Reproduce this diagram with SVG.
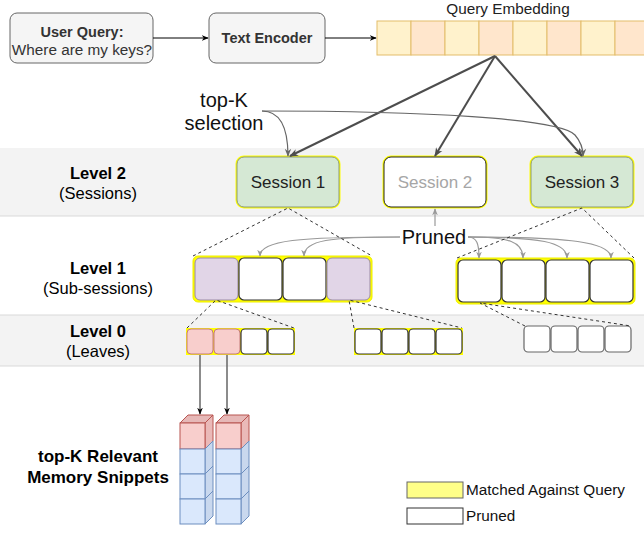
<svg xmlns="http://www.w3.org/2000/svg" width="644" height="534" viewBox="0 0 644 534">
  <defs>
    <marker id="arr" viewBox="0 0 10 10" refX="9" refY="5" markerWidth="7" markerHeight="7" orient="auto" markerUnits="userSpaceOnUse">
      <path d="M0 1 L10 5 L0 9 L3 5 Z" fill="#000"/>
    </marker>
    <marker id="arrDark" viewBox="0 0 10 10" refX="9" refY="5" markerWidth="9" markerHeight="9" orient="auto" markerUnits="userSpaceOnUse">
      <path d="M0 1 L10 5 L0 9 L3 5 Z" fill="#4d4d4d"/>
    </marker>
    <marker id="arrGray" viewBox="0 0 10 10" refX="9" refY="5" markerWidth="7" markerHeight="7" orient="auto" markerUnits="userSpaceOnUse">
      <path d="M0 1 L10 5 L0 9 L3 5 Z" fill="#999"/>
    </marker>
    <marker id="arrMid" viewBox="0 0 10 10" refX="9" refY="5" markerWidth="8" markerHeight="8" orient="auto" markerUnits="userSpaceOnUse">
      <path d="M0 1 L10 5 L0 9 L3 5 Z" fill="#666"/>
    </marker>
  </defs>
  <style>
    text { font-family: "Liberation Sans", Arial, sans-serif; fill: #000; }
    .band { fill: #f3f3f3; }
    .bandline { stroke: #d9d9d9; stroke-width: 1; }
    .lbl { font-size: 16.5px; text-anchor: middle; }
    .big { font-size: 17px; text-anchor: middle; font-weight: bold; }
    .b { font-weight: bold; }
    .grey-box { fill: #f5f5f5; stroke: #666; stroke-width: 1; }
    .emb-y { fill: #fff2cc; stroke: #e3bd6b; stroke-width: 1; }
    .emb-o { fill: #ffe6cc; stroke: #e3bd6b; stroke-width: 1; }
    .halo { fill: none; stroke: #ffff00; stroke-width: 3; }
    .sess { fill: #d5e8d4; stroke: #8a9a7a; stroke-width: 1; }
    .sess-p { fill: #fff; stroke: #222; stroke-width: 1; }
    .sess-t { font-size: 17px; text-anchor: middle; }
    .cont { fill: #ffff00; stroke: #eeee00; stroke-width: 1; }
    .purple { fill: #e1d5e7; stroke: #9a8aa6; stroke-width: 1; }
    .white { fill: #fff; stroke: #333; stroke-width: 1.2; }
    .white-g { fill: #fff; stroke: #666; stroke-width: 1.2; }
    .pink { fill: #f8cecc; stroke: #c57b78; stroke-width: 1; }
    .dash { stroke: #333; stroke-width: 1; stroke-dasharray: 3 3; fill: none; }
    .main { stroke: #4d4d4d; stroke-width: 2; fill: none; }
    .sel { stroke: #666; stroke-width: 1.2; fill: none; }
    .pr { stroke: #999; stroke-width: 1.2; fill: none; }
    .blk { stroke: #000; stroke-width: 1; fill: none; }
    .leafarr { stroke: #666; stroke-width: 1.5; fill: none; }
    .cube-pf { fill: #f8cecc; stroke: #b85450; stroke-width: 1; }
    .cube-pt { fill: #e6b8b7; stroke: #b85450; stroke-width: 1; }
    .cube-ps { fill: #eab9b8; stroke: #b85450; stroke-width: 1; }
    .cube-bf { fill: #dae8fc; stroke: #6c8ebf; stroke-width: 1; }
    .cube-bs { fill: #c9d8ee; stroke: #6c8ebf; stroke-width: 1; }
    .legend-t { font-size: 15.3px; }
  </style>

  <!-- level bands -->
  <rect class="band" x="0" y="148" width="644" height="68"/>
  <line class="bandline" x1="0" y1="216" x2="644" y2="216"/>
  <rect class="band" x="0" y="315" width="644" height="51"/>
  <line class="bandline" x1="0" y1="315" x2="644" y2="315"/>
  <line class="bandline" x1="0" y1="366" x2="644" y2="366"/>

  <!-- level labels -->
  <g id="label-level2">
    <text class="lbl b" x="98" y="179">Level 2</text>
    <text class="lbl" x="98" y="199">(Sessions)</text>
  </g>
  <g id="label-level1">
    <text class="lbl b" x="98" y="274">Level 1</text>
    <text class="lbl" x="98" y="294">(Sub-sessions)</text>
  </g>
  <g id="label-level0">
    <text class="lbl b" x="98" y="337">Level 0</text>
    <text class="lbl" x="98" y="357">(Leaves)</text>
  </g>
  <g id="label-snippets">
    <text class="big" x="98" y="462">top-K Relevant</text>
    <text class="big" x="98" y="483">Memory Snippets</text>
  </g>

  <!-- query pipeline -->
  <g id="user-query">
    <rect class="grey-box" x="10" y="13" width="143" height="50" rx="7"/>
    <text x="82" y="37" text-anchor="middle" font-size="14.5" font-weight="bold" style="fill:#333">User Query:</text>
    <text x="82" y="55" text-anchor="middle" font-size="15.3" style="fill:#333">Where are my keys?</text>
  </g>
  <g id="text-encoder">
    <rect class="grey-box" x="209" y="13" width="116" height="50" rx="7"/>
    <text x="267" y="43" text-anchor="middle" font-size="14.5" font-weight="bold" style="fill:#333">Text Encoder</text>
  </g>
  <g id="query-embedding">
    <text x="508" y="14" text-anchor="middle" font-size="15.3" style="fill:#222">Query Embedding</text>
    <rect class="emb-y" x="377" y="21" width="34" height="34"/>
    <rect class="emb-o" x="411" y="21" width="34" height="34"/>
    <rect class="emb-y" x="445" y="21" width="34" height="34"/>
    <rect class="emb-o" x="479" y="21" width="34" height="34"/>
    <rect class="emb-y" x="513" y="21" width="34" height="34"/>
    <rect class="emb-o" x="547" y="21" width="34" height="34"/>
    <rect class="emb-y" x="581" y="21" width="34" height="34"/>
    <rect class="emb-o" x="615" y="21" width="34" height="34"/>
  </g>
  <g id="top-k-label">
    <text x="224" y="107" text-anchor="middle" font-size="20" style="fill:#111">top-K</text>
    <text x="224" y="130" text-anchor="middle" font-size="20" style="fill:#111">selection</text>
  </g>

  <!-- sessions -->
  <g id="session-1">
    <rect class="halo" x="237" y="157" width="102" height="50" rx="7"/>
    <rect class="sess" x="237" y="157" width="102" height="50" rx="7"/>
    <text class="sess-t" x="288" y="188" style="fill:#222">Session 1</text>
  </g>
  <g id="session-2">
    <rect class="halo" x="384" y="157" width="102" height="50" rx="7"/>
    <rect class="sess-p" x="384" y="157" width="102" height="50" rx="7"/>
    <text class="sess-t" x="435" y="188" style="fill:#a6a6a6">Session 2</text>
  </g>
  <g id="session-3">
    <rect class="halo" x="531" y="157" width="102" height="50" rx="7"/>
    <rect class="sess" x="531" y="157" width="102" height="50" rx="7"/>
    <text class="sess-t" x="582" y="188" style="fill:#222">Session 3</text>
  </g>

  <!-- level 1 sub-sessions -->
  <g id="subsessions-1">
    <rect class="cont" x="193" y="256" width="179" height="46" rx="5"/>
    <rect class="purple" x="195" y="258" width="43" height="42" rx="5"/>
    <rect class="white" x="239" y="258" width="43" height="42" rx="5"/>
    <rect class="white" x="283" y="258" width="43" height="42" rx="5"/>
    <rect class="purple" x="327" y="258" width="43" height="42" rx="5"/>
  </g>
  <g id="subsessions-3">
    <rect class="cont" x="456" y="258" width="179" height="46" rx="5"/>
    <rect class="white" x="458" y="260" width="43" height="42" rx="5"/>
    <rect class="white" x="502" y="260" width="43" height="42" rx="5"/>
    <rect class="white" x="546" y="260" width="43" height="42" rx="5"/>
    <rect class="white" x="590" y="260" width="43" height="42" rx="5"/>
  </g>
  <g id="pruned-label">
    <text x="434" y="244" text-anchor="middle" font-size="20" style="fill:#111">Pruned</text>
  </g>

  <!-- level 0 leaves -->
  <g id="leaves-a">
    <rect fill="#ffff00" x="186" y="328" width="109" height="27"/>
    <rect class="pink" x="187" y="329" width="26" height="25" rx="4"/>
    <rect class="pink" x="214" y="329" width="26" height="25" rx="4"/>
    <rect class="white" x="241" y="329" width="26" height="25" rx="4"/>
    <rect class="white" x="268" y="329" width="26" height="25" rx="4"/>
  </g>
  <g id="leaves-b">
    <rect fill="#ffff00" x="354" y="328" width="109" height="27"/>
    <rect class="white" x="355" y="329" width="26" height="25" rx="4"/>
    <rect class="white" x="382" y="329" width="26" height="25" rx="4"/>
    <rect class="white" x="409" y="329" width="26" height="25" rx="4"/>
    <rect class="white" x="436" y="329" width="26" height="25" rx="4"/>
  </g>
  <g id="leaves-c">
    <rect class="white-g" x="524" y="326" width="26" height="26" rx="4"/>
    <rect class="white-g" x="551" y="326" width="26" height="26" rx="4"/>
    <rect class="white-g" x="578" y="326" width="26" height="26" rx="4"/>
    <rect class="white-g" x="605" y="326" width="26" height="26" rx="4"/>
  </g>

  <!-- retrieved snippet stacks -->
  <g id="stack-1">
    <path class="cube-pt" d="M180 423 L188 415 L213 415 L205 423 Z"/>
    <path class="cube-ps" d="M205 423 L213 415 L213 441 L205 449 Z"/>
    <rect class="cube-pf" x="180" y="423" width="25" height="26"/>
    <path class="cube-bs" d="M205 449 L213 441 L213 466 L205 474 Z"/>
    <rect class="cube-bf" x="180" y="449" width="25" height="25"/>
    <path class="cube-bs" d="M205 474 L213 466 L213 491 L205 499 Z"/>
    <rect class="cube-bf" x="180" y="474" width="25" height="25"/>
    <path class="cube-bs" d="M205 499 L213 491 L213 516 L205 524 Z"/>
    <rect class="cube-bf" x="180" y="499" width="25" height="25"/>
  </g>
  <g id="stack-2">
    <path class="cube-pt" d="M216 423 L224 415 L249 415 L241 423 Z"/>
    <path class="cube-ps" d="M241 423 L249 415 L249 441 L241 449 Z"/>
    <rect class="cube-pf" x="216" y="423" width="25" height="26"/>
    <path class="cube-bs" d="M241 449 L249 441 L249 466 L241 474 Z"/>
    <rect class="cube-bf" x="216" y="449" width="25" height="25"/>
    <path class="cube-bs" d="M241 474 L249 466 L249 491 L241 499 Z"/>
    <rect class="cube-bf" x="216" y="474" width="25" height="25"/>
    <path class="cube-bs" d="M241 499 L249 491 L249 516 L241 524 Z"/>
    <rect class="cube-bf" x="216" y="499" width="25" height="25"/>
  </g>

  <!-- legend -->
  <g id="legend">
    <rect x="407" y="482" width="56" height="16" fill="#ffff88" stroke="#666" stroke-width="1"/>
    <text class="legend-t" x="466" y="495" style="fill:#111">Matched Against Query</text>
    <rect x="407" y="508" width="56" height="16" fill="#fff" stroke="#333" stroke-width="1"/>
    <text class="legend-t" x="466" y="521" style="fill:#111">Pruned</text>
  </g>

  <!-- connectors -->
  <g id="connectors">
    <line class="blk" x1="153" y1="38" x2="208" y2="38" marker-end="url(#arr)"/>
    <line class="blk" x1="325" y1="38" x2="376" y2="38" marker-end="url(#arr)"/>

    <line class="main" x1="495" y1="56" x2="290" y2="156" marker-end="url(#arrDark)"/>
    <line class="main" x1="495" y1="56" x2="435" y2="156" marker-end="url(#arrDark)"/>
    <line class="main" x1="495" y1="56" x2="582" y2="156" marker-end="url(#arrDark)"/>

    <path class="sel" d="M262 111 C282 111 288 130 288 156" marker-end="url(#arrMid)"/>
    <path class="sel" d="M262 111 C420 111 560 118 575 135 C582 143 583 150 583 156" marker-end="url(#arrMid)"/>

    <line class="pr" x1="435" y1="226" x2="435" y2="209" marker-end="url(#arrGray)"/>
    <path class="pr" d="M400 237 C300 237 260 240 260 256" marker-end="url(#arrGray)"/>
    <path class="pr" d="M400 237 C330 237 304 240 304 256" marker-end="url(#arrGray)"/>
    <path class="pr" d="M468 237 C477 237 479 244 479 258" marker-end="url(#arrGray)"/>
    <path class="pr" d="M468 237 C510 237 523 242 523 258" marker-end="url(#arrGray)"/>
    <path class="pr" d="M468 237 C540 237 567 242 567 258" marker-end="url(#arrGray)"/>
    <path class="pr" d="M468 237 C570 237 611 242 611 258" marker-end="url(#arrGray)"/>

    <path class="dash" d="M193 256 L288 208 L372 256"/>
    <path class="dash" d="M457 258 L582 208 L634 258"/>
    <path class="dash" d="M187 328 L216 300 L294 328"/>
    <path class="dash" d="M354 328 L349 300 L462 328"/>
    <path class="dash" d="M525 326 L480 303 L631 326"/>

    <line class="leafarr" x1="200" y1="355" x2="200" y2="414" marker-end="url(#arr)"/>
    <line class="leafarr" x1="227" y1="355" x2="227" y2="414" marker-end="url(#arr)"/>
  </g>
</svg>
